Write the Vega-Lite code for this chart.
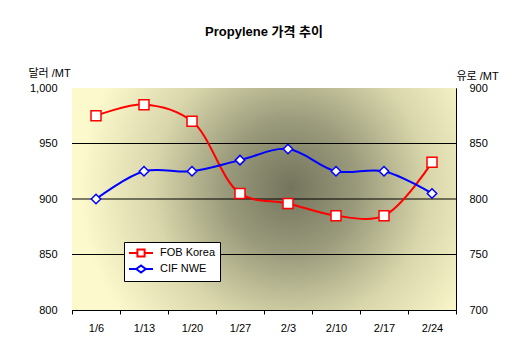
{
  "$schema": "https://vega.github.io/schema/vega-lite/v6.json",
  "width": 384,
  "height": 222,
  "autosize": "none",
  "padding": {"left": 72, "top": 88, "right": 58, "bottom": 28},
  "background": "white",
  "title": {
    "text": "Propylene 가격 추이",
    "font": "Liberation Sans, Noto Sans CJK KR",
    "fontSize": 13,
    "fontWeight": "bold",
    "color": "black",
    "anchor": "middle",
    "offset": 28
  },
  "config": {
    "view": {"stroke": "#808080", "strokeWidth": 1},
    "axis": {
      "labelFont": "Liberation Sans",
      "labelFontSize": 11,
      "labelColor": "black",
      "domainColor": "black",
      "domainWidth": 1,
      "titleFont": "Liberation Sans, Noto Sans CJK KR",
      "titleFontSize": 11,
      "titleFontWeight": "normal",
      "titleColor": "black"
    },
    "legend": {
      "labelFont": "Liberation Sans",
      "labelFontSize": 11,
      "labelColor": "black"
    }
  },
  "datasets": {
    "prices": [
      {"date": "1/6", "series": "FOB Korea", "price": 975},
      {"date": "1/13", "series": "FOB Korea", "price": 985},
      {"date": "1/20", "series": "FOB Korea", "price": 970},
      {"date": "1/27", "series": "FOB Korea", "price": 905},
      {"date": "2/3", "series": "FOB Korea", "price": 896},
      {"date": "2/10", "series": "FOB Korea", "price": 885},
      {"date": "2/17", "series": "FOB Korea", "price": 885},
      {"date": "2/24", "series": "FOB Korea", "price": 933},
      {"date": "1/6", "series": "CIF NWE", "price": 800},
      {"date": "1/13", "series": "CIF NWE", "price": 825},
      {"date": "1/20", "series": "CIF NWE", "price": 825},
      {"date": "1/27", "series": "CIF NWE", "price": 835},
      {"date": "2/3", "series": "CIF NWE", "price": 845},
      {"date": "2/10", "series": "CIF NWE", "price": 825},
      {"date": "2/17", "series": "CIF NWE", "price": 825},
      {"date": "2/24", "series": "CIF NWE", "price": 805}
    ],
    "gridlines": [{"price": 850}, {"price": 900}, {"price": 950}],
    "empty": []
  },
  "data": {"name": "prices"},
  "layer": [
    {
      "data": {"values": [{"bg": 1}]},
      "mark": {
        "type": "rect",
        "fill": {
          "gradient": "radial",
          "x1": 0.57, "y1": 0.47, "r1": 0,
          "x2": 0.57, "y2": 0.47, "r2": 0.55,
          "stops": [
            {"offset": 0, "color": "#74745d"},
            {"offset": 0.3, "color": "#98987a"},
            {"offset": 0.65, "color": "#d8d6aa"},
            {"offset": 1, "color": "#fcfacd"}
          ]
        }
      },
      "encoding": {}
    },
    {
      "encoding": {
        "x": {
          "field": "date",
          "type": "ordinal",
          "sort": null,
          "scale": {"paddingInner": 0, "paddingOuter": 0},
          "axis": {
            "title": null,
            "labelAngle": 0,
            "grid": false,
            "ticks": true,
            "tickBand": "extent",
            "tickColor": "black",
            "tickSize": 4,
            "labelPadding": 8
          }
        },
        "y": {
          "field": "price",
          "type": "quantitative",
          "scale": {"domain": [800, 1000], "zero": false, "nice": false},
          "axis": {
            "orient": "left",
            "values": [800, 850, 900, 950, 1000],
            "format": ",d",
            "grid": false,
            "ticks": false,
            "labelPadding": 15,
            "title": "달러 /MT",
            "titleAngle": 0,
            "titleAlign": "left",
            "titleBaseline": "middle",
            "titleX": -44,
            "titleY": -15
          }
        }
      },
      "layer": [
        {
          "data": {"name": "gridlines"},
          "mark": {"type": "rule", "color": "black", "strokeWidth": 1},
          "encoding": {"x": null, "y": {"field": "price", "type": "quantitative"}}
        },
        {
          "transform": [{"filter": "datum.series === 'FOB Korea'"}],
          "mark": {"type": "line", "color": "#ff0000", "strokeWidth": 2, "interpolate": "catmull-rom"}
        },
        {
          "transform": [{"filter": "datum.series === 'FOB Korea'"}],
          "mark": {"type": "point", "shape": "square", "size": 100, "filled": true, "fill": "white", "stroke": "#ff0000", "strokeWidth": 1.5, "opacity": 1}
        }
      ]
    },
    {
      "transform": [{"filter": "datum.series === 'CIF NWE'"}],
      "encoding": {
        "x": {"field": "date", "type": "ordinal", "sort": null},
        "y": {
          "field": "price",
          "type": "quantitative",
          "scale": {"domain": [700, 900], "zero": false, "nice": false},
          "axis": {
            "orient": "right",
            "values": [700, 750, 800, 850, 900],
            "grid": false,
            "ticks": false,
            "labelPadding": 13,
            "title": "유로 /MT",
            "titleAngle": 0,
            "titleAlign": "left",
            "titleBaseline": "middle",
            "titleX": 0,
            "titleY": -12
          }
        }
      },
      "layer": [
        {"mark": {"type": "line", "color": "#0000ff", "strokeWidth": 2, "interpolate": "catmull-rom"}},
        {"mark": {"type": "point", "shape": "diamond", "size": 90, "filled": true, "fill": "white", "stroke": "#0000ff", "strokeWidth": 1.5, "opacity": 1}}
      ]
    },
    {
      "data": {"name": "empty"},
      "mark": {"type": "point", "filled": true, "fill": "white", "strokeWidth": 2, "opacity": 1},
      "encoding": {
        "shape": {
          "field": "series",
          "type": "nominal",
          "scale": {
            "domain": ["FOB Korea", "CIF NWE"],
            "range": [
              "M-2,0H-0.6M0.6,0H2M-0.6,-0.6H0.6V0.6H-0.6Z",
              "M-2,0H-0.8M0.8,0H2M-0.8,0L0,-0.6L0.8,0L0,0.6Z"
            ]
          },
          "legend": {
            "title": null,
            "orient": "none",
            "legendX": 52,
            "legendY": 154,
            "fillColor": "white",
            "strokeColor": "black",
            "padding": 4,
            "rowPadding": 0,
            "symbolSize": 144,
            "symbolFillColor": "white",
            "symbolStrokeWidth": 2,
            "symbolOffset": 6,
            "labelOffset": 12
          }
        },
        "stroke": {
          "field": "series",
          "type": "nominal",
          "scale": {"domain": ["FOB Korea", "CIF NWE"], "range": ["#ff0000", "#0000ff"]},
          "legend": {
            "title": null,
            "orient": "none",
            "legendX": 52,
            "legendY": 154
          }
        }
      }
    }
  ],
  "resolve": {"scale": {"y": "independent"}}
}
